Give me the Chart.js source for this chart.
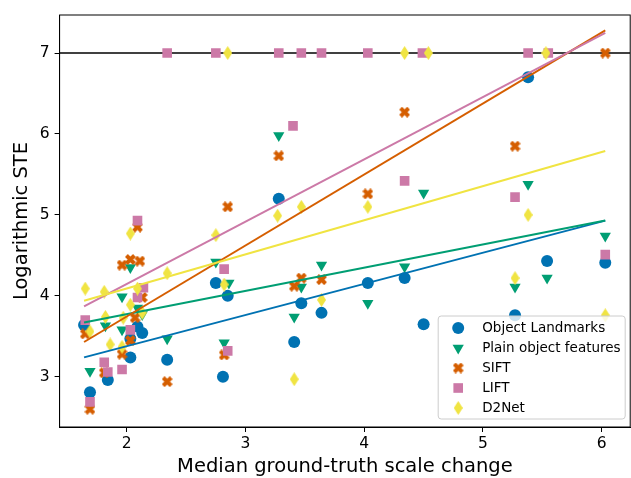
<!DOCTYPE html>
<html lang="en">
<head>
  <meta charset="UTF-8">
  <title>Logarithmic STE vs scale change</title>
  <script src="https://cdn.jsdelivr.net/npm/chart.js"></script>
  <style>
    html, body { margin: 0; padding: 0; background: #fff; overflow: hidden; }
    #steChart { display: block; }
  </style>
</head>
<body>
<!-- a few px wider than the window: chart.js keeps a small right gutter we don't want -->
<canvas id="steChart" width="637" height="478"></canvas>

<script>
  // axis ranges + ticks
  const xRange = [1.434, 6.24];
  const yRange = [2.38, 7.47];
  const xTicks = [2, 3, 4, 5, 6];
  const yTicks = [3, 4, 5, 6, 7];
  const ceiling = 7;

  const seriesNames = ["Object Landmarks", "Plain object features", "SIFT", "LIFT", "D2Net"];

  // [median scale change, log STE]
  const landmarks = [
    [1.64, 3.64], [1.69, 2.81], [1.84, 2.96], [2.03, 3.24], [2.03, 3.47], [2.09, 3.62],
    [2.13, 3.54], [2.34, 3.21], [2.75, 4.16], [2.85, 4.00], [3.28, 5.20], [2.81, 3.00],
    [3.41, 3.43], [3.47, 3.91], [3.64, 3.79], [4.03, 4.16], [4.34, 4.22], [4.50, 3.65],
    [5.38, 6.70], [5.54, 4.43], [6.03, 4.41], [5.27, 3.76]
  ];
  const plainFeatures = [
    [1.69, 3.07], [1.82, 3.63], [1.96, 3.99], [1.96, 3.58], [2.03, 4.35], [2.09, 3.85],
    [2.13, 3.77], [2.34, 3.47], [2.75, 4.42], [2.86, 4.16], [2.82, 3.42], [3.28, 5.98],
    [3.41, 3.74], [3.47, 4.11], [3.64, 4.38], [4.03, 3.91], [4.34, 4.36], [4.50, 5.27],
    [5.38, 5.38], [5.27, 4.11], [5.54, 4.22], [6.03, 4.74]
  ];
  const sift = [
    [1.65, 3.53], [1.69, 2.60], [1.81, 3.05], [1.96, 4.38], [2.03, 4.45], [2.11, 4.43],
    [2.09, 4.85], [1.96, 3.28], [2.07, 3.73], [2.13, 3.98], [2.03, 3.45], [2.34, 2.94],
    [2.85, 5.10], [2.82, 3.27], [3.28, 5.73], [3.41, 4.12], [3.47, 4.22], [3.64, 4.20],
    [4.03, 5.26], [4.34, 6.27], [5.27, 5.85], [6.03, 7.00]
  ];
  const lift = [
    [1.65, 3.70], [1.69, 2.69], [1.81, 3.18], [1.84, 3.06], [1.96, 3.09], [2.03, 3.58],
    [2.09, 4.93], [2.14, 4.10], [2.09, 3.98], [2.34, 7.00], [2.75, 7.00], [3.28, 7.00],
    [3.47, 7.00], [3.64, 7.00], [3.40, 6.10], [2.82, 4.33], [2.85, 3.32], [4.03, 7.00],
    [4.49, 7.00], [4.34, 5.42], [5.38, 7.00], [5.55, 7.00], [5.27, 5.22], [6.03, 4.51]
  ];
  const d2net = [
    [1.65, 4.09], [1.69, 3.56], [1.81, 4.05], [1.82, 3.74], [1.86, 3.40], [1.96, 3.37],
    [2.03, 4.77], [2.09, 4.09], [2.03, 3.89], [2.13, 3.79], [2.34, 4.28], [1.97, 3.73],
    [2.75, 4.75], [2.85, 7.00], [2.82, 4.14], [3.27, 4.99], [3.47, 5.10], [3.41, 2.97],
    [3.64, 3.95], [4.03, 5.10], [4.34, 7.00], [4.54, 7.00], [5.53, 7.00], [5.38, 5.00],
    [5.27, 4.22], [6.03, 3.76]
  ];

  // fitted trend lines, value at fitX[0] and fitX[1]
  const fitX = [1.64, 6.03];
  const fitLandmarks = [3.24, 4.93];
  const fitPlain = [3.67, 4.93];
  const fitSift = [3.43, 7.28];
  const fitLift = [3.87, 7.25];
  const fitD2net = [3.94, 5.79];

  const colors = ["#0072B2", "#009E73", "#D55E00", "#CC79A7", "#F0E442"];

  // filled X marker like matplotlib "X"
  function makeX(size, color) {
    const c = document.createElement("canvas");
    c.width = size; c.height = size;
    const g = c.getContext("2d");
    g.strokeStyle = color;
    g.lineWidth = size * 0.36;
    g.beginPath();
    g.moveTo(1.5, 1.5); g.lineTo(size - 1.5, size - 1.5);
    g.moveTo(size - 1.5, 1.5); g.lineTo(1.5, size - 1.5);
    g.stroke();
    return c;
  }
  // thin diamond like matplotlib "d"
  function makeDiamond(w, h, color) {
    const c = document.createElement("canvas");
    c.width = w; c.height = h;
    const g = c.getContext("2d");
    g.fillStyle = color;
    g.beginPath();
    g.moveTo(w / 2, 0); g.lineTo(w, h / 2); g.lineTo(w / 2, h); g.lineTo(0, h / 2);
    g.closePath();
    g.fill();
    return c;
  }

  const markers = [
    { pointStyle: "circle", radius: 6, rotation: 0 },
    { pointStyle: "triangle", radius: 6.5, rotation: 180 },
    { pointStyle: makeX(11, colors[2]), radius: 5, rotation: 0 },
    { pointStyle: "rect", radius: 6.8, rotation: 0 },
    { pointStyle: makeDiamond(9, 14, colors[4]), radius: 5, rotation: 0 }
  ];

  const pts = arr => arr.map(p => ({ x: p[0], y: p[1] }));
  const fit = ys => [{ x: fitX[0], y: ys[0] }, { x: fitX[1], y: ys[1] }];

  const scatterData = [landmarks, plainFeatures, sift, lift, d2net];
  const fitData = [fitLandmarks, fitPlain, fitSift, fitLift, fitD2net];

  const datasets = [];
  scatterData.forEach((arr, i) => {
    datasets.push({
      type: "scatter",
      label: seriesNames[i],
      data: pts(arr),
      backgroundColor: colors[i],
      borderColor: colors[i],
      borderWidth: 0,
      pointStyle: markers[i].pointStyle,
      pointRadius: markers[i].radius,
      pointRotation: markers[i].rotation,
      order: 10 - i
    });
  });
  fitData.forEach((ys, i) => {
    datasets.push({
      type: "line",
      label: "fit " + seriesNames[i],
      data: fit(ys),
      borderColor: colors[i],
      borderWidth: 2,
      pointRadius: 0,
      fill: false,
      order: 5 - i
    });
  });
  datasets.push({
    type: "line",
    label: "ceiling",
    data: [{ x: xRange[0], y: ceiling }, { x: xRange[1], y: ceiling }],
    borderColor: "#000",
    borderWidth: 1.5,
    pointRadius: 0,
    order: 20
  });

  // matplotlib style frame + legend inside the axes
  const framePlugin = {
    id: "frame",
    afterDraw(chart) {
      const { ctx, chartArea: a } = chart;
      ctx.save();
      ctx.strokeStyle = "#000";
      ctx.lineWidth = 1;
      ctx.strokeRect(a.left, a.top, a.right - a.left, a.bottom - a.top);

      const lw = 187, lh = 103;
      const lx = a.right - 5 - lw, ly = a.bottom - 8 - lh;
      ctx.beginPath();
      ctx.roundRect(lx, ly, lw, lh, 3);
      ctx.fillStyle = "rgba(255,255,255,0.8)";
      ctx.fill();
      ctx.strokeStyle = "#cccccc";
      ctx.stroke();

      ctx.font = "13.5px 'DejaVu Sans'";
      ctx.textBaseline = "middle";
      seriesNames.forEach((name, i) => {
        const y = ly + 12 + i * 20;
        ctx.fillStyle = colors[i];
        ctx.strokeStyle = colors[i];
        Chart.helpers.drawPoint(ctx, {
          pointStyle: markers[i].pointStyle,
          radius: markers[i].radius,
          rotation: markers[i].rotation,
          borderWidth: 0
        }, lx + 20, y);
        ctx.fillStyle = "#000";
        ctx.fillText(name, lx + 44, y);
      });
      ctx.restore();
    }
  };

  new Chart(document.getElementById("steChart"), {
    data: { datasets },
    options: {
      responsive: false,
      animation: false,
      devicePixelRatio: 1,
      layout: { padding: { top: 15, right: 0, left: 0, bottom: 0 } },
      plugins: { legend: { display: false }, tooltip: { enabled: false } },
      scales: {
        x: {
          type: "linear",
          min: xRange[0],
          max: xRange[1],
          afterBuildTicks: s => { s.ticks = xTicks.map(v => ({ value: v })); },
          afterFit: s => { s.height = 51; },
          grid: { drawOnChartArea: false, tickLength: 5, color: "#000" },
          border: { color: "#000" },
          ticks: { color: "#000", font: { family: "DejaVu Sans", size: 15.5 }, padding: 3 },
          title: {
            display: true,
            text: "Median ground-truth scale change",
            color: "#000",
            font: { family: "DejaVu Sans", size: 19.5 },
            padding: { top: 0, bottom: -1 }
          }
        },
        y: {
          type: "linear",
          min: yRange[0],
          max: yRange[1],
          afterBuildTicks: s => { s.ticks = yTicks.map(v => ({ value: v })); },
          afterFit: s => { s.width = 59.6; s.paddingTop = 0; s.paddingBottom = 0; },
          grid: { drawOnChartArea: false, tickLength: 5, color: "#000" },
          border: { color: "#000" },
          ticks: { color: "#000", font: { family: "DejaVu Sans", size: 15.5 }, padding: 5 },
          title: {
            display: true,
            text: "Logarithmic STE",
            color: "#000",
            font: { family: "DejaVu Sans", size: 19.5 },
            padding: { top: 10, bottom: 0 }
          }
        }
      }
    },
    plugins: [framePlugin]
  });
</script>
</body>
</html>
